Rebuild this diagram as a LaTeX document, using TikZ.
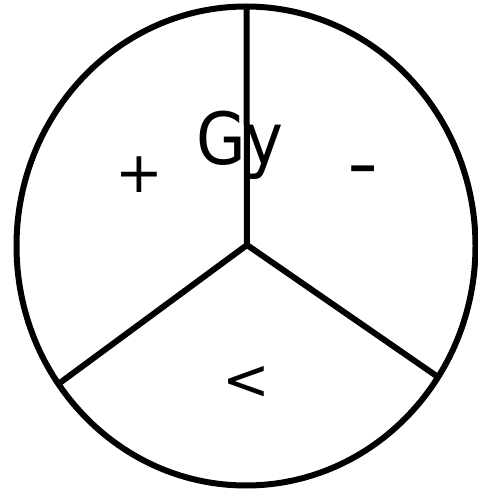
\documentclass[tikz,border=0pt]{standalone}
\usepackage{fontspec}
\setmainfont{DejaVu Sans}
\begin{document}
\begin{tikzpicture}[x=1pt,y=1pt,
  seg/.style={line width=6pt},
  lbl/.style={inner sep=0pt,font=\fontsize{57}{64}\selectfont},
  big/.style={inner sep=0pt,font=\fontsize{72}{80}\selectfont}]
\useasboundingbox (0,0) rectangle (477,490);
\coordinate (c) at (246,244);
\draw[seg] (c) ellipse [x radius=229.5, y radius=239.5];
\coordinate (v) at (247,245);
\coordinate (t) at (246.5,483);
\coordinate (l) at (57,105);
\coordinate (r) at (438,113);
\draw[seg] (v) -- (t);
\draw[seg] (v) -- (l);
\draw[seg] (v) -- (r);
\node[big,anchor=base,xscale=0.89] (gy) at (240,325) {Gy};
\node[lbl] (plus) at (139.5,315) {+};
\node[big,xscale=1.2] (minus) at (363,313) {-};
\node[lbl] (lt) at (246.5,107) {<};
\end{tikzpicture}
\end{document}
